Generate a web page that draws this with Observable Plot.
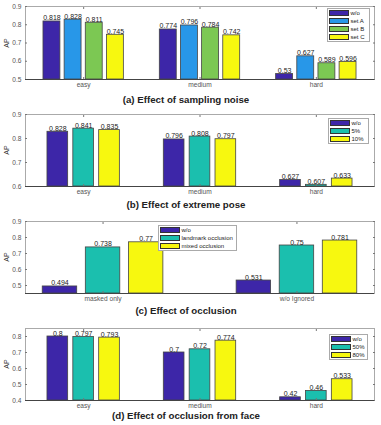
<!DOCTYPE html>
<html><head><meta charset="utf-8">
<script src="https://cdn.jsdelivr.net/npm/d3@7"></script>
<script src="https://cdn.jsdelivr.net/npm/@observablehq/plot@0.6"></script>
<style>
body{margin:0;background:#fff;font-family:"Liberation Sans",Arial,sans-serif;}
#root{position:relative;width:381px;height:425px;overflow:hidden;background:#fff}
.panel{position:absolute;left:0}
.title{position:absolute;left:0;width:372px;text-align:center;font-weight:bold;font-size:9.7px;line-height:9px;color:#222;white-space:nowrap}
.ylab{position:absolute;font-size:7px;color:#333;transform:translate(-50%,-50%) rotate(-90deg);white-space:nowrap}
.legend{position:absolute;background:#fff;border:1px solid #aaa;box-sizing:border-box}
.lrow{position:absolute;left:1px;height:8px;display:flex;align-items:center;font-size:6px;color:#222;white-space:nowrap}
.sw{width:20px;height:6px;border:0.8px solid #333;box-sizing:border-box;margin-right:2px}
</style>
</head><body><div id="root"></div>
<script>
// Panel (a)
const groupsA = ["easy", "medium", "hard"];
const seriesA = ["w/o", "set A", "set B", "set C"];
const valuesA = [[0.818, 0.828, 0.811, 0.745], [0.774, 0.796, 0.784, 0.742], [0.53, 0.627, 0.589, 0.596]];
const colorsA = ["#3d26a8", "#2897e8", "#7cc853", "#f7f80f"];
const ticksA = [0.5, 0.6, 0.7, 0.8, 0.9];
const titleA = "(a) Effect of sampling noise";

// Panel (b)
const groupsB = ["easy", "medium", "hard"];
const seriesB = ["w/o", "5%", "10%"];
const valuesB = [[0.828, 0.841, 0.835], [0.796, 0.808, 0.797], [0.627, 0.607, 0.633]];
const colorsB = ["#3d26a8", "#1bbfae", "#f7f80f"];
const ticksB = [0.6, 0.7, 0.8, 0.9];
const titleB = "(b) Effect of extreme pose";

// Panel (c)
const groupsC = ["masked only", "w/o Ignored"];
const seriesC = ["w/o", "landmark occlusion", "mixed occlusion"];
const valuesC = [[0.494, 0.738, 0.77], [0.531, 0.75, 0.781]];
const colorsC = ["#3d26a8", "#1bbfae", "#f7f80f"];
const ticksC = [0.5, 0.6, 0.7, 0.8, 0.9];
const titleC = "(c) Effect of occlusion";

// Panel (d)
const groupsD = ["easy", "medium", "hard"];
const seriesD = ["w/o", "50%", "80%"];
const valuesD = [[0.8, 0.797, 0.793], [0.7, 0.72, 0.774], [0.42, 0.46, 0.533]];
const colorsD = ["#3d26a8", "#1bbfae", "#f7f80f"];
const ticksD = [0.4, 0.5, 0.6, 0.7, 0.8];
const titleD = "(d) Effect of occlusion from face";

const yLabel = "AP";
const root = document.getElementById("root");
const FONT = '"Liberation Sans", Arial, sans-serif';

function panel(cfg) {
  const {groups, series, values, colors, yDomain, yTicks, xDomain, top, marginTop, height, title, titleY, legend} = cfg;
  const n = series.length;
  const gw = Math.min(0.8, n / (n + 1.5));
  const slot = gw / n;
  const rows = [];
  groups.forEach((g, gi) => series.forEach((s, si) => {
    const c = gi + 1 - gw / 2 + slot * (si + 0.5);
    rows.push({group: g, series: s, value: values[gi][si], x1: c - slot * 0.4, x2: c + slot * 0.4, xc: c});
  }));
  const xd = xDomain || [0.5, groups.length + 0.5];
  const gTicks = groups.map((g, i) => i + 1);
  const plot = Plot.plot({
    width: 381, height, marginTop, marginBottom: 13, marginLeft: 25, marginRight: 7,
    style: {fontFamily: FONT, fontSize: "6.6px", color: "#555", background: "transparent"},
    x: {domain: xd, label: null},
    y: {domain: yDomain, label: null},
    color: {domain: series, range: colors},
    marks: [
      Plot.rectY(rows, {x1: "x1", x2: "x2", y1: yDomain[0], y2: "value", fill: "series", stroke: "#444", strokeWidth: 0.8}),
      Plot.text(rows, {x: "xc", y: "value", text: d => String(d.value), lineAnchor: "bottom", dy: -1, fontSize: 7, fill: "#222"}),
      Plot.frame({stroke: "#aaa"}),
      Plot.axisY({ticks: yTicks, tickSize: -2, tickPadding: 6, tickFormat: d => String(d), stroke: "#777", fill: "#555"}),
      Plot.axisY({anchor: "right", ticks: yTicks, tickSize: -2, tickFormat: () => "", stroke: "#777"}),
      Plot.axisX({ticks: gTicks, tickSize: -2, tickPadding: 5, tickFormat: i => groups[i - 1], stroke: "#777", fill: "#555"}),
      Plot.axisX({anchor: "top", ticks: gTicks, tickSize: -2, tickFormat: () => "", stroke: "#777"}),
      Plot.ruleY([yDomain[0]], {stroke: "#444"})
    ]
  });
  const wrap = document.createElement("div");
  wrap.className = "panel";
  wrap.style.top = top + "px";
  wrap.appendChild(plot);
  root.appendChild(wrap);

  const yl = document.createElement("div");
  yl.className = "ylab";
  yl.textContent = yLabel;
  yl.style.left = "6px";
  yl.style.top = (top + marginTop + (height - marginTop - 13) / 2) + "px";
  root.appendChild(yl);

  const t = document.createElement("div");
  t.className = "title";
  t.textContent = title;
  t.style.top = (titleY - 4) + "px";
  root.appendChild(t);

  const lg = document.createElement("div");
  lg.className = "legend";
  lg.style.left = legend.x + "px";
  lg.style.top = legend.y + "px";
  lg.style.width = legend.w + "px";
  lg.style.height = (n * legend.rh + 2) + "px";
  series.forEach((s, i) => {
    const r = document.createElement("div");
    r.className = "lrow";
    r.style.top = (1 + i * legend.rh - 1) + "px";
    r.style.height = legend.rh + "px";
    const sw = document.createElement("div");
    sw.className = "sw";
    sw.style.background = colors[i];
    r.appendChild(sw);
    const tx = document.createElement("span");
    tx.textContent = s;
    r.appendChild(tx);
    lg.appendChild(r);
  });
  root.appendChild(lg);
}

panel({groups: groupsA, series: seriesA, values: valuesA, colors: colorsA, yDomain: [0.5, 0.9], yTicks: ticksA,
  top: 0, marginTop: 6, height: 92, title: titleA, titleY: 99, legend: {x: 326.5, y: 7.5, w: 43, rh: 8}});
panel({groups: groupsB, series: seriesB, values: valuesB, colors: colorsB, yDomain: [0.6, 0.9], yTicks: ticksB,
  top: 105, marginTop: 9, height: 94, title: titleB, titleY: 204, legend: {x: 327.5, y: 117.5, w: 41, rh: 8.3}});
panel({groups: groupsC, series: seriesC, values: valuesC, colors: colorsC, yDomain: [0.45, 0.9], yTicks: ticksC, xDomain: [0.6, 2.4],
  top: 210, marginTop: 11, height: 96, title: titleC, titleY: 310, legend: {x: 157.5, y: 225, w: 79.5, rh: 8}});
panel({groups: groupsD, series: seriesD, values: valuesD, colors: colorsD, yDomain: [0.4, 0.85], yTicks: ticksD,
  top: 315, marginTop: 13, height: 98, title: titleD, titleY: 414.5, legend: {x: 328.5, y: 333.5, w: 39, rh: 8}});
</script>
</body></html>
